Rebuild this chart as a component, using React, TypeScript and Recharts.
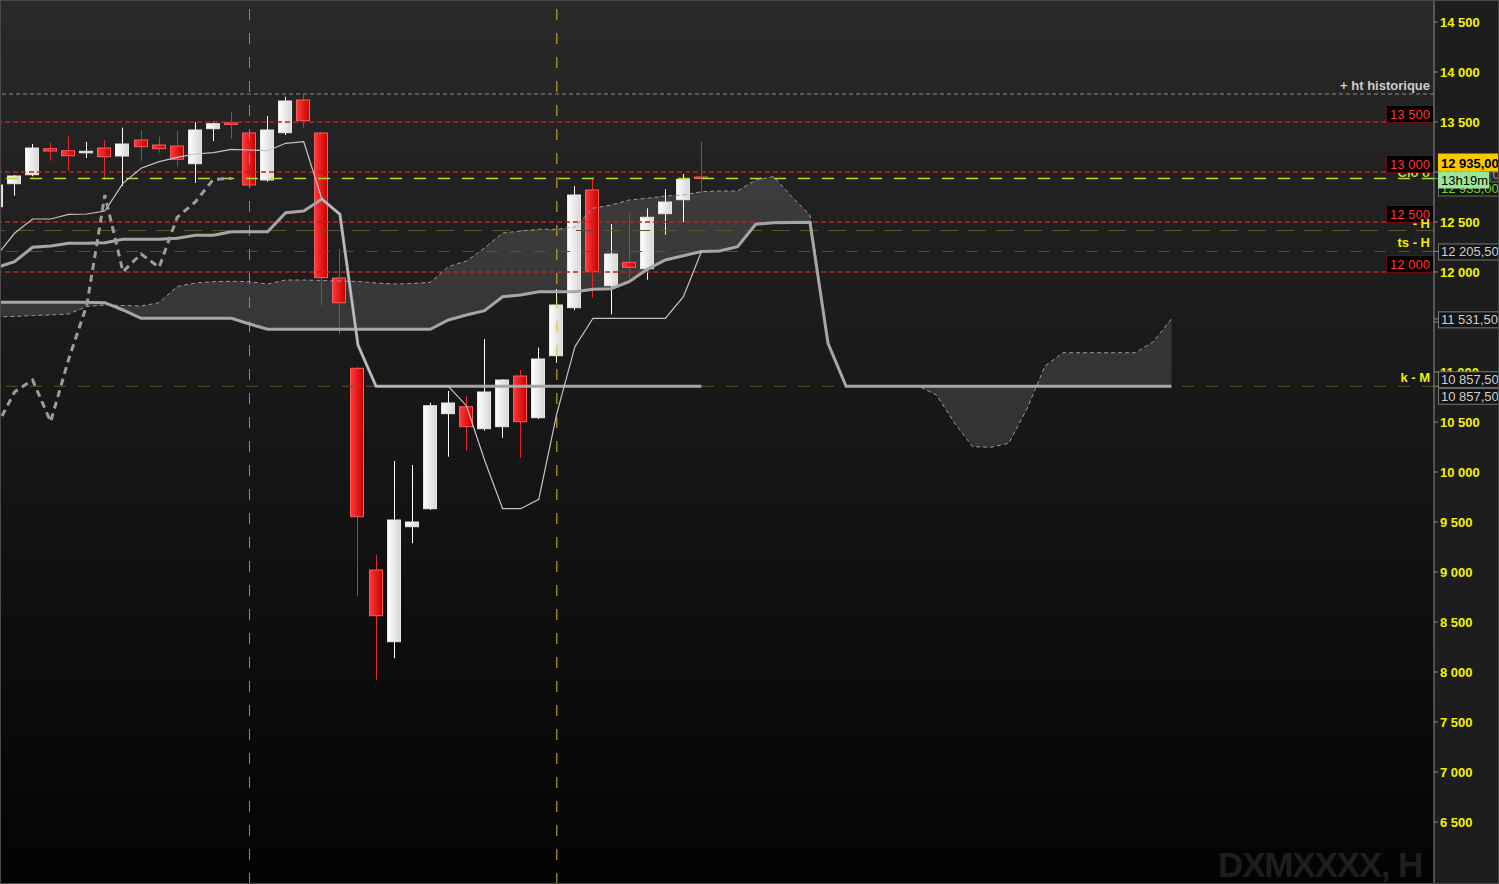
import React from 'react';
import { ComposedChart, Bar, Line, Area, XAxis, YAxis, ReferenceLine } from 'recharts';

const FONT = 'Arial, "Liberation Sans", Helvetica, sans-serif';

// slot index (0 = first full candle; 39..64 = projected cloud)
const slots = [
  -1, 0, 1, 2, 3, 4, 5, 6, 7, 8, 9, 10, 11, 12, 13, 14, 15, 16, 17, 18, 19, 20, 21, 22, 23, 24,
  25, 26, 27, 28, 29, 30, 31, 32, 33, 34, 35, 36, 37, 38, 39, 40, 41, 42, 43, 44, 45, 46, 47, 48,
  49, 50, 51, 52, 53, 54, 55, 56, 57, 58, 59, 60, 61, 62, 63, 64,
];

const opens = [
  12653, 12883, 12973, 13233, 13213, 13207, 13240, 13160, 13320, 13270, 13260, 13083, 13433, 13493,
  13390, 12920, 13393, 13720, 13390, 11940, 11037, 9020, 8303, 9453, 9633, 10583, 10653, 10433,
  10453, 10960, 10543, 11163, 11643, 12820, 11863, 12097, 12033, 12583, 12723, 12950,
];
const highs = [
  12900, 12970, 13280, 13293, 13363, 13300, 13320, 13443, 13413, 13353, 13413, 13500, 13510, 13600,
  13400, 13560, 13753, 13780, 13400, 12227, 11050, 9170, 10110, 10070, 10693, 10810, 10763, 11330,
  10930, 11020, 11243, 11830, 12860, 12927, 12480, 12580, 12637, 12827, 12980, 13300,
];
const lows = [
  12600, 12763, 12957, 13113, 13013, 13140, 12920, 12860, 13107, 13193, 13053, 12893, 13310, 13333,
  12837, 12903, 13370, 13443, 11670, 11377, 8760, 7920, 8137, 9287, 9620, 10153, 10213, 10413,
  10343, 10143, 10530, 11093, 11620, 11743, 11577, 11937, 11923, 12373, 12500, 12787,
];
const closes = [
  12870, 12960, 13240, 13210, 13163, 13207, 13153, 13280, 13253, 13233, 13127, 13420, 13483, 13476,
  12870, 13420, 13710, 13513, 11943, 11693, 9553, 8563, 9520, 9500, 10663, 10690, 10453, 10800,
  10920, 10503, 11130, 11670, 12770, 12003, 12180, 12047, 12547, 12700, 12927, 12935,
];

const tenkan = [
  12160, 12387, 12530, 12530, 12577, 12580, 12610, 12887, 13037, 13103, 13147, 13180, 13193, 13227,
  13220, 13213, 13287, 13303, 12730, 12577, 11270, 10857.5, 10857.5, 10857.5, 10857.5, 10857.5,
  10663, 10120, 9633, 9633, 9727, 10587, 11253, 11537, 11537, 11537, 11537, 11537, 11753, 12205.5,
];
const kijun = [
  12045, 12103, 12247, 12260, 12287, 12287, 12293, 12327, 12327, 12327, 12337, 12367, 12367, 12403,
  12403, 12403, 12593, 12610, 12730, 12577, 11270, 10857.5, 10857.5, 10857.5, 10857.5, 10857.5,
  10857.5, 10857.5, 10857.5, 10857.5, 10857.5, 10857.5, 10857.5, 10857.5, 10857.5, 10857.5,
  10857.5, 10857.5, 10857.5, 10857.5,
];
const senkouA = [
  11550, 11555, 11565, 11570, 11580, 11655, 11670, 11665, 11660, 11693, 11855, 11890, 11903, 11907,
  11903, 11880, 11920, 11920, 11915, 11910, 11905, 11890, 11880, 11885, 11897, 12053, 12110, 12240,
  12390, 12410, 12427, 12427, 12450, 12637, 12670, 12720, 12737, 12760, 12770, 12803, 12810, 12810,
  12920, 12953, 12753, 12570, 11290, 10857.5, 10857.5, 10857.5, 10857.5, 10857.5, 10770, 10490,
  10253, 10247, 10287, 10630, 11060, 11193, 11193, 11193, 11193, 11193, 11303, 11531.5,
];
const senkouB = [
  11697, 11697, 11697, 11697, 11697, 11697, 11693, 11620, 11537, 11537, 11537, 11537, 11537, 11537,
  11480, 11427, 11427, 11427, 11427, 11427, 11427, 11427, 11427, 11427, 11427, 11520, 11570, 11613,
  11753, 11770, 11803, 11803, 11803, 11827, 11833, 11903, 12027, 12120, 12163, 12205.5, 12210,
  12253, 12477, 12493, 12495, 12497, 11287, 10857.5, 10857.5, 10857.5, 10857.5, 10857.5, 10857.5,
  10857.5, 10857.5, 10857.5, 10857.5, 10857.5, 10857.5, 10857.5, 10857.5, 10857.5, 10857.5,
  10857.5, 10857.5, 10857.5,
];
const chikou = [10453, 10800, 10920, 10503, 11130, 11670, 12770, 12003, 12180, 12047, 12547, 12700, 12927, 12935];

const yTicks = [6500, 7000, 7500, 8000, 8500, 9000, 9500, 10000, 10500, 11000, 11500, 12000, 12500, 13000, 13500, 14000, 14500];

const levelValues = [13500, 13000, 12500, 12000];
const levelTexts = ['13 500', '13 000', '12 500', '12 000'];
const athValue = 13780;
const lastPrice = 12935;
const hValue = 12415;
const tsValue = 12205.5;
const kValue = 10857.5;
const spanAEnd = 11531.5;
const markerSlots = [13, 30];
const boxTicks = [spanAEnd, kValue, tsValue, lastPrice];

const data = slots.map((i, k) => ({
  i,
  open: opens[k] ?? null,
  high: highs[k] ?? null,
  low: lows[k] ?? null,
  close: closes[k] ?? null,
  range: highs[k] != null ? [lows[k], highs[k]] : null,
  tenkan: tenkan[k] ?? null,
  kijun: kijun[k] ?? null,
  spanA: senkouA[k] ?? null,
  spanB: senkouB[k] ?? null,
  cloud: senkouA[k] != null ? [senkouB[k], senkouA[k]] : null,
  chikou: chikou[k] ?? null,
}));

function Candle(props: any) {
  const { x, y, width, height, payload } = props;
  if (!payload || payload.open == null || payload.close == null || height == null) return null;
  const top = Math.min(y, y + height);
  const h = Math.abs(height);
  const { open, close, high, low } = payload;
  const span = high - low || 1;
  const toY = (v: number) => top + ((high - v) / span) * h;
  const up = close >= open;
  const center = x + width / 2;
  const cx = Math.floor(center) + 0.5;
  const bTop = toY(Math.max(open, close));
  const bBot = toY(Math.min(open, close));
  const bh = Math.max(bBot - bTop, 1.5);
  const bx = Math.floor(center) - 7 + 0.5;
  return (
    <g>
      <line x1={cx} x2={cx} y1={top} y2={top + h} stroke={up ? '#ffffff' : '#e8262a'} strokeWidth={1} />
      <rect
        x={bx}
        y={bTop}
        width={width - 1}
        height={bh}
        fill={up ? 'url(#gUp)' : 'url(#gDown)'}
        stroke={up ? '#e6e6e6' : '#ff5a5a'}
        strokeWidth={1}
      />
    </g>
  );
}

const rightText = (text: string, color: string, dy: number) => (p: any) => {
  const vb = p.viewBox;
  return (
    <text
      x={vb.x + vb.width - 4}
      y={vb.y + dy}
      textAnchor="end"
      fill={color}
      fontSize={13}
      fontWeight="bold"
      fontFamily={FONT}
    >
      {text}
    </text>
  );
};

const levelBox = (text: string) => (p: any) => {
  const vb = p.viewBox;
  const r = vb.x + vb.width;
  return (
    <g>
      <rect x={r - 47.5} y={vb.y - 16.5} width={47} height={17} fill="#000" stroke="#6b0a0a" strokeWidth={1} />
      <text x={r - 24} y={vb.y - 3.5} textAnchor="middle" fill="#ff3434" fontSize={13} fontFamily={FONT}>
        {text}
      </text>
    </g>
  );
};

type BoxSpec = { text: string; dy: number; h: number; bg: string; fg: string; border: string; bold?: boolean; dx?: number; w?: number };

const drawBoxes = (left: number, y: number, boxes: BoxSpec[]) => (
  <g>
    {boxes.map((b, n) => (
      <g key={n}>
        <rect x={left + (b.dx ?? 0)} y={y + b.dy} width={b.w ?? 70} height={b.h} fill={b.bg} stroke={b.border} strokeWidth={1} />
        <text
          x={left + (b.dx ?? 0) + 2.5}
          y={y + b.dy + b.h - 3.5}
          fill={b.fg}
          fontSize={13}
          fontWeight={b.bold ? 'bold' : 'normal'}
          fontFamily={FONT}
        >
          {b.text}
        </text>
      </g>
    ))}
  </g>
);

const grayBox = (text: string, dy: number): BoxSpec => ({ text, dy, h: 16, bg: '#141414', fg: '#cfcfcf', border: '#7a7a7a' });

const fmtTick = (v: number) => `${Math.floor(v / 1000)} ${String(v % 1000).padStart(3, '0')}`;

function AxisTick(props: any) {
  const { x, y, payload } = props;
  const v = payload?.value;
  const left = x - 1.5;
  if (v === lastPrice) {
    return drawBoxes(left, y, [
      { text: '12 935,00', dy: 2.5, h: 15, bg: '#141414', fg: '#7ed21e', border: '#6a6a6a' },
      { text: '0', dy: -6.5, h: 10, bg: '#2a2a2a', fg: '#9a9a9a', border: '#6a6a6a', dx: 51.5, w: 14 },
      { text: '13h19m', dy: -6.5, h: 16, bg: '#98e898', fg: '#000', border: '#98e898', w: 50 },
      { text: '12 935,00', dy: -24.5, h: 17, bg: '#f8c800', fg: '#000', border: '#f8c800', bold: true },
    ]);
  }
  if (v === kValue) return drawBoxes(left, y, [grayBox('10 857,50', -14.5), grayBox('10 857,50', 2)]);
  if (v === tsValue) return drawBoxes(left, y, [grayBox('12 205,50', -7.5)]);
  if (v === spanAEnd) return drawBoxes(left, y, [grayBox('11 531,50', -7)]);
  return (
    <text x={x} y={y} dy="0.355em" textAnchor="start" fill="#f5f200" fontSize={13} fontWeight="bold" fontFamily={FONT}>
      {fmtTick(v)}
    </text>
  );
}

export default function App() {
  return (
    <div
      style={{
        position: 'absolute',
        left: 0,
        top: 0,
        width: 1499,
        height: 884,
        overflow: 'hidden',
        background: 'linear-gradient(to bottom, #292929 0%, #030303 100%)',
        fontFamily: FONT,
      }}
    >
      <div style={{ position: 'absolute', left: 1434, top: 0, width: 65, height: 884, background: '#1d1d1d' }} />
      <div
        style={{
          position: 'absolute',
          right: 77,
          top: 842,
          fontSize: 35,
          letterSpacing: '-1.2px',
          fontWeight: 'bold',
          color: '#1e1e1e',
          fontFamily: FONT,
          lineHeight: '46px',
          whiteSpace: 'nowrap',
        }}
      >
        DXMXXXX, H
      </div>
      <div style={{ position: 'absolute', left: 0, top: 0 }}>
        <ComposedChart width={1499} height={884} data={data} margin={{ top: 0, right: 0, bottom: 0, left: 0 }}>
          <defs>
            <linearGradient id="gUp" x1="0" y1="0" x2="1" y2="0">
              <stop offset="0%" stopColor="#ffffff" />
              <stop offset="100%" stopColor="#d6d6d6" />
            </linearGradient>
            <linearGradient id="gDown" x1="0" y1="0" x2="1" y2="0">
              <stop offset="0%" stopColor="#ff3a3a" />
              <stop offset="100%" stopColor="#c80000" />
            </linearGradient>
          </defs>
          <XAxis dataKey="i" type="number" domain={[-0.8021, 78.52]} hide allowDataOverflow />
          <YAxis
            orientation="right"
            type="number"
            width={65}
            domain={[5880, 14720]}
            ticks={[...yTicks, ...boxTicks]}
            interval={0}
            allowDataOverflow
            axisLine={{ stroke: '#8c8c8c' }}
            tickLine={{ stroke: '#8c8c8c' }}
            tickSize={4}
            tick={AxisTick}
          />
          {markerSlots.map((s, n) => (
            <ReferenceLine
              key={`v${s}`}
              x={s}
              stroke={n === 0 ? '#c85ce0' : '#e8b428'}
              strokeDasharray="11 13"
              strokeWidth={1}
            />
          ))}
          <ReferenceLine y={athValue} stroke="#8c8c8c" strokeDasharray="4 3" label={rightText('+ ht historique', '#cccccc', -4)} />
          <ReferenceLine y={hValue} stroke="#56562a" strokeDasharray="18 10" />
          <ReferenceLine y={tsValue} stroke="#56562a" strokeDasharray="12 12" />
          <ReferenceLine y={kValue} stroke="#56562a" strokeDasharray="12 12" />
          <ReferenceLine
            y={lastPrice}
            stroke="#a8e030"
            strokeWidth={1.5}
            strokeDasharray="12 12"
            label={rightText('Clô o', '#b8d43c', -1.5)}
          />
          {levelValues.map((v, n) => (
            <ReferenceLine key={`l${v}`} y={v} stroke="#c81e1e" strokeWidth={1.5} strokeDasharray="5 3" label={levelBox(levelTexts[n])} />
          ))}
          <ReferenceLine y={hValue} stroke="none" label={rightText('- H', '#f2ee00', -3)} />
          <ReferenceLine y={tsValue} stroke="none" label={rightText('ts - H', '#f2ee00', -4.5)} />
          <ReferenceLine y={kValue} stroke="none" label={rightText('k - M', '#f2ee00', -4)} />
          <Area
            dataKey="cloud"
            type="linear"
            stroke="none"
            fill="#ffffff"
            fillOpacity={0.12}
            isAnimationActive={false}
            connectNulls={false}
            activeDot={false}
          />
          <Line dataKey="spanA" type="linear" stroke="#9a9a9a" strokeWidth={1} strokeDasharray="4 3" dot={false} activeDot={false} isAnimationActive={false} />
          <Line dataKey="spanB" type="linear" stroke="#a6a6a6" strokeWidth={3} dot={false} activeDot={false} isAnimationActive={false} />
          <Bar dataKey="range" barSize={14} shape={Candle} isAnimationActive={false} />
          <Line dataKey="kijun" type="linear" stroke="#a6a6a6" strokeWidth={3} dot={false} activeDot={false} isAnimationActive={false} />
          <Line dataKey="tenkan" type="linear" stroke="#c4c4c4" strokeWidth={1.2} dot={false} activeDot={false} isAnimationActive={false} />
          <Line dataKey="chikou" type="linear" stroke="#9c9c9c" strokeWidth={3} strokeDasharray="7 5" dot={false} activeDot={false} isAnimationActive={false} />
        </ComposedChart>
      </div>
      <div
        style={{
          position: 'absolute',
          left: 0,
          top: 0,
          width: 1499,
          height: 884,
          boxSizing: 'border-box',
          border: '1px solid #4a4a4a',
          pointerEvents: 'none',
        }}
      />
    </div>
  );
}
